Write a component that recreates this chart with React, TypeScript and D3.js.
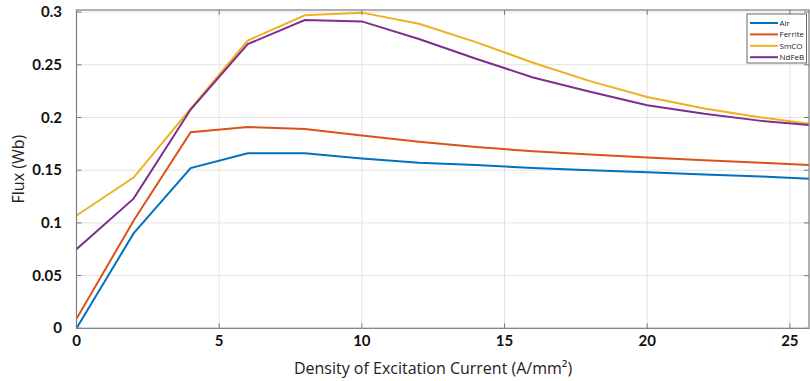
import React from "react";
import * as d3 from "d3";

// Excitation current density (A/mm²)
const current = [0, 2, 4, 6, 8, 10, 12, 14, 16, 18, 20, 22, 24, 26];

// Flux (Wb) per magnet type
const air = [0, 0.09, 0.152, 0.166, 0.166, 0.161, 0.157, 0.155, 0.152, 0.15, 0.148, 0.146, 0.144, 0.1415];
const ferrite = [0.009, 0.102, 0.186, 0.191, 0.189, 0.183, 0.177, 0.172, 0.168, 0.165, 0.162, 0.1595, 0.157, 0.1545];
const smco = [0.107, 0.143, 0.2085, 0.273, 0.297, 0.2995, 0.289, 0.2715, 0.252, 0.2345, 0.2195, 0.2085, 0.2, 0.193];
const ndfeb = [0.075, 0.123, 0.2076, 0.2696, 0.2924, 0.2912, 0.2745, 0.2557, 0.238, 0.2245, 0.2117, 0.2035, 0.1968, 0.192];

const seriesNames = ["Air", "Ferrite", "SmCO", "NdFeB"];
const seriesValues = [air, ferrite, smco, ndfeb];
const colors = ["#0072BD", "#D95319", "#EDB120", "#7E2F8E"];

const xTicks = [0, 5, 10, 15, 20, 25];
const yTicks = [0, 0.05, 0.1, 0.15, 0.2, 0.25, 0.3];

export default function App() {
  const width = 810;
  const height = 381;
  const left = 76.5;
  const right = 809;
  const top = 10;
  const bottom = 328.3;

  const x = d3.scaleLinear().domain([0, 25.67]).range([left, right]);
  const y = d3.scaleLinear().domain([0, 0.302]).range([bottom, top]);

  const line = d3
    .line<number>()
    .x((_, i) => x(current[i]))
    .y((d) => y(d));

  const tickFont = "Lato, sans-serif";
  const labelFont = "'Open Sans', sans-serif";
  const axisColor = "#7c7c7c";
  const tickLen = 5;

  return (
    <svg
      width={width}
      height={height}
      style={{ position: "absolute", left: 0, top: 0, background: "#fff" }}
    >
      <defs>
        <clipPath id="plot">
          <rect x={left} y={top - 2} width={right - left} height={bottom - top + 4} />
        </clipPath>
      </defs>

      {/* grid */}
      {xTicks.map((t) => (
        <line key={"gx" + t} x1={x(t)} x2={x(t)} y1={top} y2={bottom} stroke="#e3e3e3" strokeWidth={1} />
      ))}
      {yTicks.map((t) => (
        <line key={"gy" + t} x1={left} x2={right} y1={y(t)} y2={y(t)} stroke="#e3e3e3" strokeWidth={1} />
      ))}

      {/* series */}
      <g clipPath="url(#plot)">
        {seriesValues.map((vals, i) => (
          <path key={seriesNames[i]} d={line(vals) || undefined} fill="none" stroke={colors[i]} strokeWidth={2} />
        ))}
      </g>

      {/* frame and ticks */}
      <rect x={left} y={top} width={right - left} height={bottom - top} fill="none" stroke={axisColor} strokeWidth={1.2} />
      {xTicks.map((t) => (
        <g key={"tx" + t}>
          <line x1={x(t)} x2={x(t)} y1={bottom} y2={bottom - tickLen} stroke={axisColor} />
          <line x1={x(t)} x2={x(t)} y1={top} y2={top + tickLen} stroke={axisColor} />
          <text x={x(t)} y={346} textAnchor="middle" fontFamily={tickFont} fontWeight="bold" fontSize={15} fill="#111">
            {t}
          </text>
        </g>
      ))}
      {yTicks.map((t) => (
        <g key={"ty" + t}>
          <line x1={left} x2={left + tickLen} y1={y(t)} y2={y(t)} stroke={axisColor} />
          <line x1={right} x2={right - tickLen} y1={y(t)} y2={y(t)} stroke={axisColor} />
          <text x={62} y={y(t) + 5} textAnchor="end" fontFamily={tickFont} fontWeight="bold" fontSize={15} fill="#111">
            {t}
          </text>
        </g>
      ))}

      {/* axis labels */}
      <text x={433} y={374} textAnchor="middle" fontFamily={labelFont} fontSize={16} fill="#222">
        Density of Excitation Current (A/mm²)
      </text>
      <text
        transform={`translate(24, ${(top + bottom) / 2}) rotate(-90)`}
        textAnchor="middle"
        fontFamily={labelFont}
        fontSize={16}
        fill="#222"
      >
        Flux (Wb)
      </text>

      {/* legend */}
      <g>
        <rect x={747} y={14} width={59.5} height={49} fill="#fff" stroke="#444" strokeWidth={0.8} />
        {seriesNames.map((name, i) => (
          <g key={"lg" + name} transform={`translate(0, ${23 + i * 11.4})`}>
            <line x1={750} x2={778} y1={0} y2={0} stroke={colors[i]} strokeWidth={2} />
            <text x={779.5} y={3} fontFamily={labelFont} fontSize={8} fill="#222">
              {name}
            </text>
          </g>
        ))}
      </g>
    </svg>
  );
}
